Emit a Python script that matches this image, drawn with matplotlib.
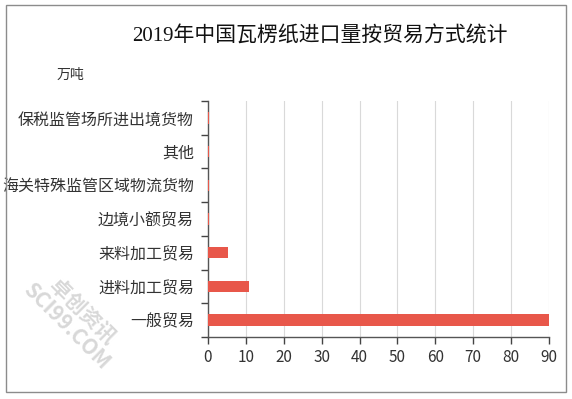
import numpy as np
import matplotlib.pyplot as plt
from matplotlib.patches import Rectangle

plt.rcParams['font.family'] = ['Noto Sans CJK SC', 'DejaVu Sans']

# data, bottom to top
categories = ['一般贸易', '进料加工贸易', '来料加工贸易', '边境小额贸易',
              '海关特殊监管区域物流货物', '其他', '保税监管场所进出境货物']
values = [90.0, 10.8, 5.3, 0.4, 0.3, 0.2, 0.3]
xticks = list(range(0, 100, 10))

fig = plt.figure(figsize=(5.72, 3.99), dpi=100)
ax = fig.add_axes([0.3636, 0.1554, 0.5962, 0.5915])

y = np.arange(len(categories))
ax.barh(y, values, height=0.34, color='#e8574a', zorder=3)

ax.set_xlim(0, 90)
ax.set_ylim(-0.5, len(categories) - 0.5)
ax.set_xticks(xticks)
ax.set_xticklabels([str(t) for t in xticks], fontsize=11, color='#333333')
ax.set_yticks(y)
ax.set_yticklabels(categories, fontsize=11.5, color='#333333')
ax.set_yticks(np.arange(-0.5, len(categories), 1), minor=True)
ax.tick_params(axis='y', which='major', length=0, pad=10)
ax.tick_params(axis='y', which='minor', length=5, width=1, color='#444444')
ax.tick_params(axis='x', length=5, width=1, color='#444444', pad=4)

ax.grid(axis='x', color='#d9d9d9', linewidth=0.8, zorder=0)
for s in ['top', 'right']:
    ax.spines[s].set_visible(False)
for s in ['left', 'bottom']:
    ax.spines[s].set_color('#555555')
    ax.spines[s].set_linewidth(1)

fig.text(0.56, 0.908, '2019年中国瓦楞纸进口量按贸易方式统计', ha='center', va='center',
         fontsize=15, family=['Liberation Serif', 'Noto Sans CJK SC'], color='#111111')
fig.text(0.099, 0.812, '万吨', ha='left', va='center', fontsize=10, color='#333333')

# watermark
fig.text(0.13, 0.2, '卓创资讯\nSCI99.COM', rotation=-45, ha='center', va='center',
         fontsize=15, color='#d8d8d8', fontweight='bold', linespacing=1.0)

fig.patches.append(Rectangle((6 / 572, 7 / 399), 560 / 572, 387 / 399,
                             transform=fig.transFigure, fill=False,
                             edgecolor='#8c8c8c', linewidth=1))

fig.savefig('out.png', dpi=100)
